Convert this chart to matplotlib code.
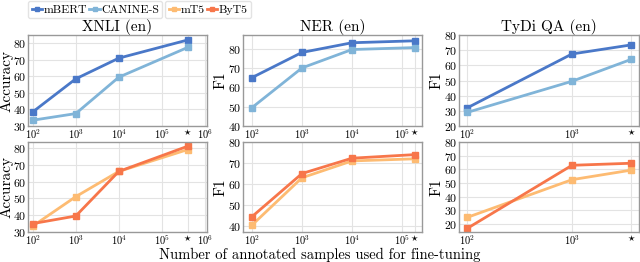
import matplotlib
matplotlib.use("Agg")
import matplotlib.pyplot as plt
import numpy as np

plt.rcParams['font.family'] = 'serif'
plt.rcParams['font.serif'] = ['cmr10']
plt.rcParams['mathtext.fontset'] = 'cm'
plt.rcParams['axes.unicode_minus'] = False
plt.rcParams['axes.formatter.use_mathtext'] = True

# Datos leídos de la figura
# posición "completa" (estrella) de cada tarea
xnli_x = [1e2, 1e3, 1e4, 4e5]
ner_x = [1e2, 1e3, 1e4, 1.8e5]
tydi_x = [1e2, 1e3, 3.7e3]

xnli_mbert = [38.5, 58.5, 71, 82]
xnli_canine = [33.5, 37.5, 59.5, 77.5]
xnli_mt5 = [33.5, 51, 66, 79]
xnli_byt5 = [35, 39.5, 66, 81]

ner_mbert = [65, 78, 83, 84]
ner_canine = [49.5, 70, 79.5, 80.5]
ner_mt5 = [40.5, 63, 71, 72]
ner_byt5 = [44.5, 65, 72.3, 74]

tydi_mbert = [32, 67.5, 73.5]
tydi_canine = [29, 49.5, 64]
tydi_mt5 = [25, 52.5, 59.5]
tydi_byt5 = [17, 63, 64.5]

xnli_ticks = [1e2, 1e3, 1e4, 1e5, 4e5, 1e6]
xnli_ticklabels = ['$10^2$', '$10^3$', '$10^4$', '$10^5$', r'$\star$', '$10^6$']
ner_ticks = [1e2, 1e3, 1e4, 1e5, 1.8e5]
ner_ticklabels = ['$10^2$', '$10^3$', '$10^4$', '$10^5$', r'$\star$']
tydi_ticks = [1e2, 1e3, 3.7e3]
tydi_ticklabels = ['$10^2$', '$10^3$', r'$\star$']

c_mbert = '#4a78c8'
c_canine = '#80b4d8'
c_mt5 = '#fdbb72'
c_byt5 = '#f7764a'

W, H = 640, 262
fig = plt.figure(figsize=(6.4, 2.62), dpi=100)


def make_ax(x0, x1, y0, y1):
    return fig.add_axes([x0 / W, 1 - y1 / H, (x1 - x0) / W, (y1 - y0) / H])


def style(ax, ticks, labels, xlim, ylim, yticks, ylabel, label_x):
    ax.set_xscale('log')
    ax.set_xlim(*xlim)
    ax.set_ylim(*ylim)
    ax.set_xticks(ticks)
    ax.set_xticklabels(labels)
    ax.minorticks_off()
    ax.set_yticks(yticks)
    ax.tick_params(length=0, labelsize=8.5, pad=1.5)
    ax.tick_params(axis='x', labelsize=7.5, pad=1)
    ax.grid(True, color='#e3e3e3', linewidth=0.8)
    ax.set_axisbelow(True)
    for s in ax.spines.values():
        s.set_color('#999999')
        s.set_linewidth(1)
    ax.set_ylabel(ylabel, fontsize=11)
    ax.yaxis.set_label_coords(label_x, 0.5)


def draw(ax, x, ys, colors):
    lines = []
    for y, c in zip(ys, colors):
        l, = ax.plot(x, y, color=c, lw=2, marker='s', ms=4)
        lines.append(l)
    return lines

# fila de arriba
ax1 = make_ax(28, 207, 35, 126)
h_blue = draw(ax1, xnli_x, [xnli_mbert, xnli_canine], [c_mbert, c_canine])
style(ax1, xnli_ticks, xnli_ticklabels, (10**1.89, 10**6.05), (30, 85), range(30, 81, 10), 'Accuracy', -0.082)
ax1.set_title('XNLI (en)', fontsize=11, pad=2)

ax2 = make_ax(243, 422, 35, 126)
draw(ax2, ner_x, [ner_mbert, ner_canine], [c_mbert, c_canine])
style(ax2, ner_ticks, ner_ticklabels, (10**1.82, 10**5.4), (40, 87), range(40, 81, 10), 'F1', -0.088)
ax2.set_title('NER (en)', fontsize=11, pad=2)

ax3 = make_ax(459, 639, 35, 126)
draw(ax3, tydi_x, [tydi_mbert, tydi_canine], [c_mbert, c_canine])
style(ax3, tydi_ticks, tydi_ticklabels, (10**1.92, 10**3.64), (20, 80), range(20, 81, 10), 'F1', -0.088)
ax3.set_title('TyDi QA (en)', fontsize=11, pad=2)

# fila de abajo
ax4 = make_ax(28, 207, 142, 232)
h_orange = draw(ax4, xnli_x, [xnli_mt5, xnli_byt5], [c_mt5, c_byt5])
style(ax4, xnli_ticks, xnli_ticklabels, (10**1.89, 10**6.05), (30, 83.5), range(30, 81, 10), 'Accuracy', -0.082)

ax5 = make_ax(243, 422, 142, 232)
draw(ax5, ner_x, [ner_mt5, ner_byt5], [c_mt5, c_byt5])
style(ax5, ner_ticks, ner_ticklabels, (10**1.82, 10**5.4), (37.2, 80), range(40, 81, 10), 'F1', -0.088)

ax6 = make_ax(459, 639, 142, 232)
draw(ax6, tydi_x, [tydi_mt5, tydi_byt5], [c_mt5, c_byt5])
style(ax6, tydi_ticks, tydi_ticklabels, (10**1.92, 10**3.64), (14.3, 80), range(20, 81, 10), 'F1', -0.088)

leg_kw = dict(loc='upper left', ncol=2, fontsize=8.5, handlelength=0.9, handletextpad=0.1,
              columnspacing=0.2, borderpad=0.3, borderaxespad=0, frameon=True,
              edgecolor='#dddddd', fancybox=True, markerscale=0.8)
fig.legend(h_blue, ['mBERT', 'CANINE-S'], bbox_to_anchor=(28 / W, 1 - 1 / H), **leg_kw)
fig.legend(h_orange, ['mT5', 'ByT5'], bbox_to_anchor=(165 / W, 1 - 1 / H), **leg_kw)

fig.text(0.5, 0.0, 'Number of annotated samples used for fine-tuning',
         ha='center', va='bottom', fontsize=10.5)

fig.savefig('out.png', dpi=100)
